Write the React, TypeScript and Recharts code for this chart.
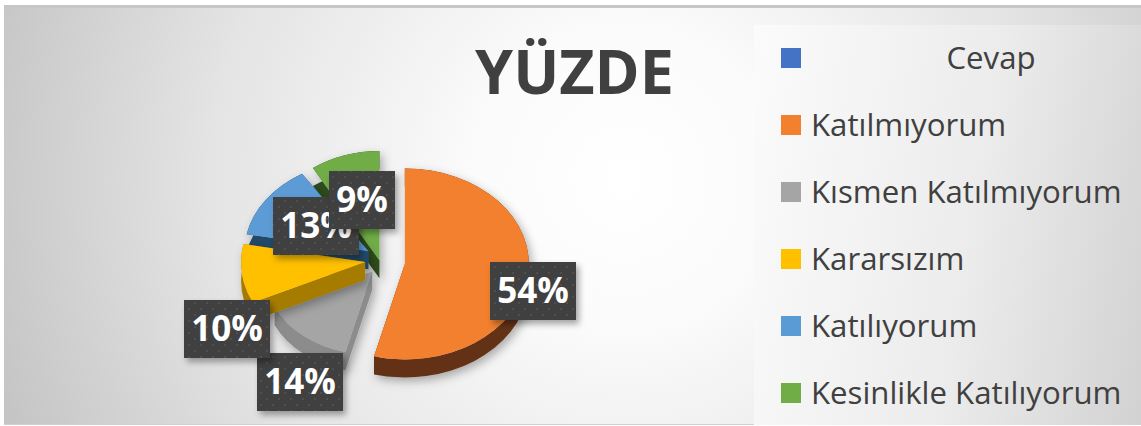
import { Legend, Pie, PieChart } from "recharts";

const categories = ["Cevap", "Katılmıyorum", "Kısmen Katılmıyorum", "Kararsızım", "Katılıyorum", "Kesinlikle Katılıyorum"];
const values = [0, 54, 14, 10, 13, 9];
const colors = ["#4472C4", "#F2802F", "#A5A5A5", "#FFC000", "#5B9BD5", "#70AD47"];
const wallColors = ["#264478", "#633214", "#8C8C8C", "#A67C00", "#22486B", "#2F4D1E"];

// nearest slices get painted last, svg has no z-index
const drawOrder = [5, 4, 2, 3, 1];
// the original is a perspective pie, so slices differ a bit in size
const sliceScale = [1, 1, 0.87, 1, 1, 1];
const sliceSquash = [0.77, 0.77, 0.77, 0.77, 0.74, 0.88];
const sliceDrop = [0, 2, 0, 0, 0, 15];
const labelOffset: [number, number][] = [[0, 0], [148, 31], [-85, 122], [-158, 69], [-69, -34], [-23, -60]];

const WIDTH = 1141;
const HEIGHT = 426;
const CX = 385;
const CY = 260;
const EXPLODE = 20;
const DEPTH = 18;

const data = categories.map((name, i) => ({ name, value: values[i], fill: colors[i], index: i }));
const rad = (deg: number) => (deg * Math.PI) / 180;

function Slice(props: any) {
  const { cx, cy, outerRadius, startAngle, endAngle, payload } = props;
  const i = payload.index;
  const squash = sliceSquash[i];
  const mid = rad((startAngle + endAngle) / 2);
  const ax = cx + EXPLODE * Math.cos(mid);
  const ay = cy - EXPLODE * 0.77 * Math.sin(mid) + sliceDrop[i];
  const r = outerRadius * sliceScale[i];
  const at = (deg: number) => [ax + r * Math.cos(rad(deg)), ay - r * squash * Math.sin(rad(deg))];
  const [sx, sy] = at(startAngle);
  const [ex, ey] = at(endAngle);
  const large = startAngle - endAngle > 180 ? 1 : 0;
  const arc = `${r},${r * squash} 0 ${large}`;
  const top = `M${ax},${ay} L${sx},${sy} A${arc} 1 ${ex},${ey} Z`;
  const wall =
    `M${sx},${sy} A${arc} 1 ${ex},${ey} L${ex},${ey + DEPTH} A${arc} 0 ${sx},${sy + DEPTH} Z ` +
    `M${ax},${ay} L${sx},${sy} L${sx},${sy + DEPTH} L${ax},${ay + DEPTH} Z ` +
    `M${ax},${ay} L${ex},${ey} L${ex},${ey + DEPTH} L${ax},${ay + DEPTH} Z`;
  return (
    <g filter="url(#pieShadow)">
      <path d={wall} fill={wallColors[i]} />
      <path d={top} fill={colors[i]} />
    </g>
  );
}

function PercentLabel(props: any) {
  const { cx, cy, index, value } = props;
  if (!value) return null;
  const [dx, dy] = labelOffset[index];
  const x = cx + dx;
  const y = cy + dy;
  const w = value < 10 ? 66 : 86;
  return (
    <g>
      <rect x={x - w / 2} y={y - 29} width={w} height={58} fill="url(#labelDots)" filter="url(#boxShadow)" />
      <text x={x} y={y + 3} fill="#fff" fontSize={35} fontWeight={700} fontFamily="Open Sans" textAnchor="middle" dominantBaseline="middle">
        {Math.round(value)}%
      </text>
    </g>
  );
}

function LegendList({ payload }: any) {
  // one Pie per paint layer, so each name turns up several times
  const items = (payload ?? []).filter((item: any, i: number, all: any[]) => all.findIndex((o) => o.value === item.value) === i);
  return (
    <div style={{ width: 387, height: 400, background: "linear-gradient(100deg, #fbfbfb 0%, #ececec 55%, #d2d2d2 100%)", position: "relative" }}>
      {items.map((item: any, i: number) => (
        <div key={item.value} style={{ position: "absolute", left: 27, top: 16 + i * 67, height: 34, width: 360, display: "flex", alignItems: "center" }}>
          <span style={{ width: 20, height: 20, background: item.color, flex: "none" }} />
          <span style={{ marginLeft: 10, flex: 1, textAlign: i === 0 ? "center" : "left", paddingLeft: i === 0 ? 30 : 0, marginTop: -2, fontSize: 31.2, color: "#404040", whiteSpace: "nowrap", fontFamily: "Open Sans" }}>
            {item.value}
          </span>
        </div>
      ))}
    </div>
  );
}

export default function App() {
  return (
    <div style={{ position: "absolute", left: 0, top: 0, width: WIDTH, height: HEIGHT, background: "#fff", overflow: "hidden", fontFamily: "Open Sans" }}>
      <div style={{ position: "absolute", left: 4, top: 5, width: 1137, height: 420, boxSizing: "border-box", borderTop: "3px solid #c6c6c6", borderBottom: "1px solid #d0d0d0", background: "radial-gradient(circle at 620px 170px, #ffffff 0%, #fbfbfb 22%, #e4e4e4 62%, #c4c4c4 100%)" }} />
      <div style={{ position: "absolute", left: 0, top: 36, width: WIDTH, paddingLeft: 8, boxSizing: "border-box", textAlign: "center", fontSize: 61, fontWeight: 700, color: "#404040", lineHeight: "70px" }}>
        YÜZDE
      </div>
      <PieChart width={WIDTH} height={HEIGHT} margin={{ top: 0, right: 0, bottom: 0, left: 0 }} style={{ position: "absolute", left: 0, top: 0 }}>
        <defs>
          <pattern id="labelDots" width="12" height="12" patternUnits="userSpaceOnUse">
            <rect width="12" height="12" fill="#404040" />
            <rect x="2" y="2" width="2" height="2" fill="#505050" />
            <rect x="8" y="8" width="2" height="2" fill="#505050" />
          </pattern>
          <filter id="boxShadow" x="-20%" y="-20%" width="140%" height="140%">
            <feDropShadow dx="3" dy="4" stdDeviation="3" floodColor="#000" floodOpacity="0.35" />
          </filter>
          <filter id="pieShadow" x="-20%" y="-20%" width="140%" height="140%">
            <feDropShadow dx="3" dy="4" stdDeviation="5" floodColor="#000" floodOpacity="0.3" />
          </filter>
        </defs>
        {drawOrder.map((slice) => (
          <Pie
            key={slice}
            data={data}
            dataKey="value"
            nameKey="name"
            cx={CX}
            cy={CY}
            outerRadius={124}
            startAngle={90}
            endAngle={-270}
            stroke="none"
            legendType="square"
            isAnimationActive={false}
            shape={(p: any) => (p.payload.index === slice ? <Slice {...p} /> : <g />)}
          />
        ))}
        <Pie
          data={data}
          dataKey="value"
          nameKey="name"
          cx={CX}
          cy={CY}
          outerRadius={124}
          startAngle={90}
          endAngle={-270}
          legendType="square"
          isAnimationActive={false}
          shape={() => <g />}
          labelLine={false}
          label={PercentLabel}
        />
        <Legend content={<LegendList />} itemSorter={null} layout="vertical" wrapperStyle={{ position: "absolute", left: 754, top: 25, width: 387, height: 400 }} />
      </PieChart>
    </div>
  );
}
